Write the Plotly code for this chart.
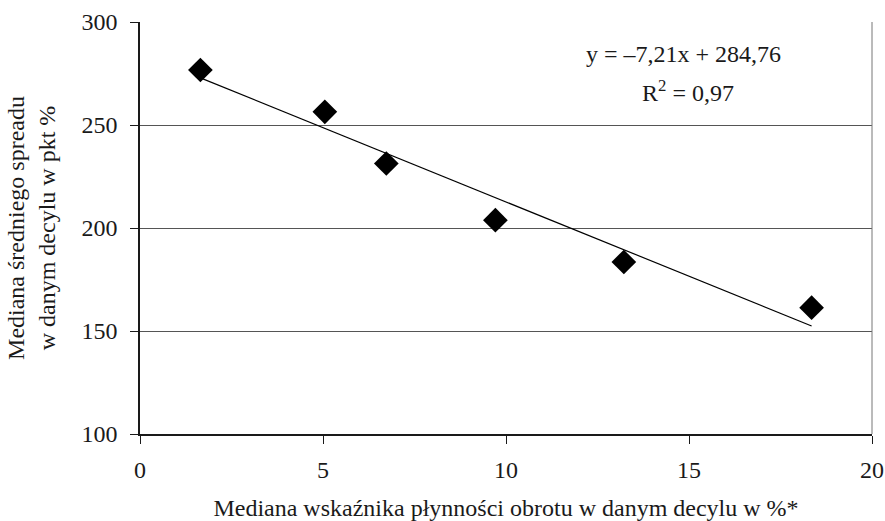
import plotly.graph_objects as go

# Data
liquidity_pct = [1.65, 5.05, 6.73, 9.71, 13.22, 18.35]
spread_pkt = [276.7, 256.4, 231.3, 203.8, 183.5, 161.3]

# Trendline coefficients as shown on the chart
slope = -7.21
intercept = 284.76
r2_text = "0,97"

x_ticks = [0, 5, 10, 15, 20]
y_ticks = [100, 150, 200, 250, 300]

FONT = "'Liberation Serif', 'Times New Roman', serif"
FS = 24

trend_x = [min(liquidity_pct), max(liquidity_pct)]
trend_y = [slope * v + intercept for v in trend_x]

fig = go.Figure()
fig.add_trace(go.Scatter(
    x=trend_x, y=trend_y, mode="lines",
    line=dict(color="black", width=1.2), hoverinfo="skip", showlegend=False))
fig.add_trace(go.Scatter(
    x=liquidity_pct, y=spread_pkt, mode="markers",
    marker=dict(symbol="diamond", size=19, color="black", line=dict(width=0)),
    showlegend=False))

fig.update_layout(
    width=885, height=521,
    margin=dict(l=140, r=13, t=22, b=87, autoexpand=False),
    paper_bgcolor="white", plot_bgcolor="white",
    font=dict(family=FONT, size=FS, color="#1a1a1a"),
    xaxis=dict(
        range=[0, 20], tickvals=x_ticks, ticktext=[str(v) for v in x_ticks],
        showgrid=False, zeroline=False, automargin=False,
        showline=True, linecolor="#1a1a1a", linewidth=1.5,
        ticks="outside", ticklen=8, tickcolor="#1a1a1a", tickwidth=1,
        ticklabelstandoff=5,
        title=dict(text="Mediana wskaźnika płynności obrotu w danym decylu w %*",
                   standoff=20, font=dict(size=FS)),
    ),
    yaxis=dict(
        range=[100, 300], tickvals=y_ticks, ticktext=[str(v) for v in y_ticks],
        showgrid=True, gridcolor="#555", gridwidth=1, zeroline=False, automargin=False,
        showline=True, linecolor="#1a1a1a", linewidth=1.5,
        ticks="outside", ticklen=8, tickcolor="#1a1a1a", tickwidth=1,
        ticklabelstandoff=8,
        title=dict(text="Mediana średniego spreadu<br>w danym decylu w pkt %",
                   standoff=19, font=dict(size=FS)),
    ),
    shapes=[dict(type="line", xref="paper", yref="paper", x0=1, x1=1, y0=0, y1=1,
                 line=dict(color="#777", width=1))],
    annotations=[
        dict(xref="paper", yref="paper", x=(683 - 140) / 732, y=(434 - 54) / 412,
             text=f"y = –{abs(slope):.2f}x + {intercept:.2f}".replace(".", ","),
             showarrow=False, xanchor="center", yanchor="middle",
             font=dict(size=FS, family=FONT, color="#1a1a1a")),
        dict(xref="paper", yref="paper", x=(688 - 140) / 732, y=(434 - 91) / 412,
             text=f"R<sup>2</sup> = {r2_text}",
             showarrow=False, xanchor="center", yanchor="middle",
             font=dict(size=FS, family=FONT, color="#1a1a1a")),
    ],
)

fig.write_html(
    "out.html",
    config={"displayModeBar": False},
    post_script="document.body.style.margin='0';document.body.style.overflow='hidden';",
)
